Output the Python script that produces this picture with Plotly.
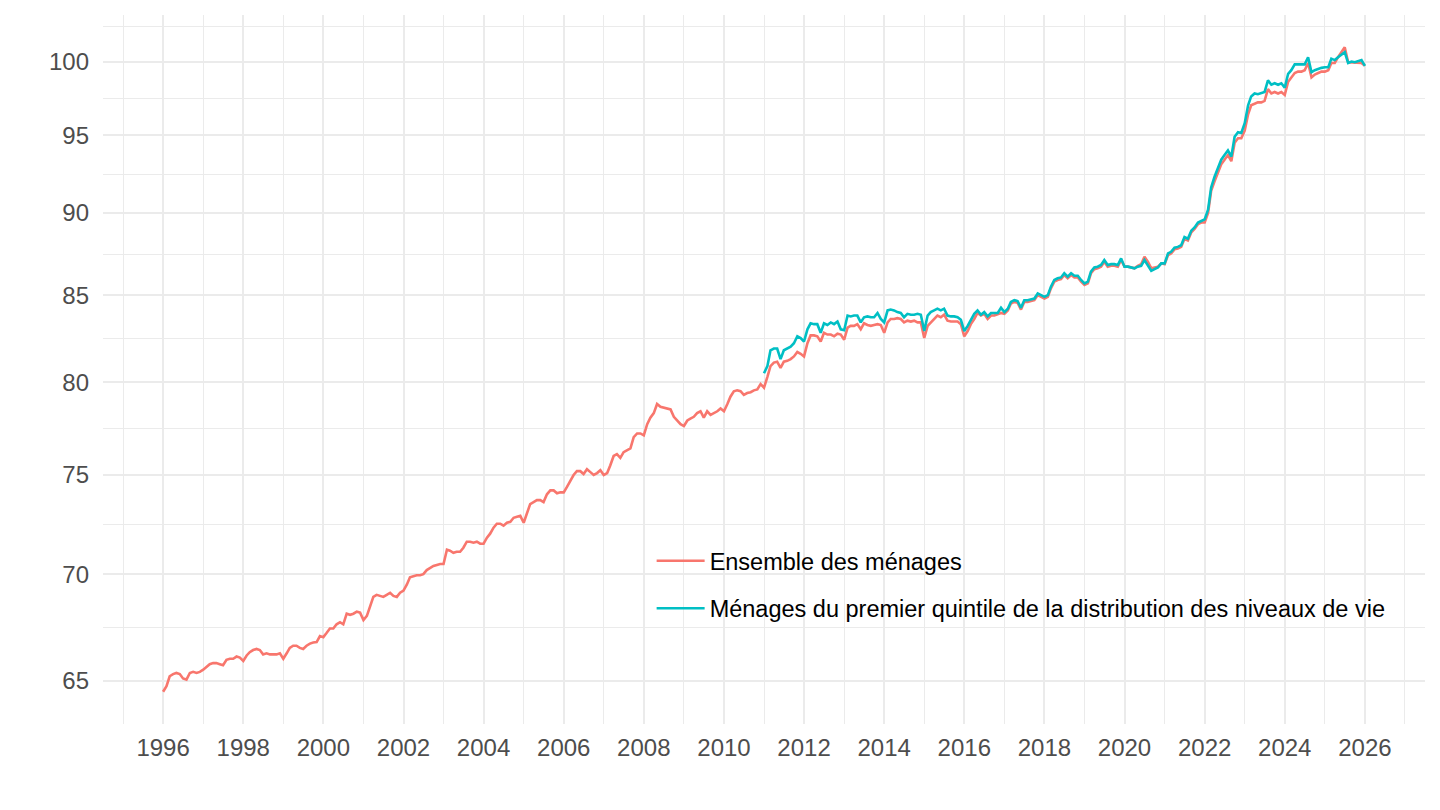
import numpy as np
import pandas as pd
import plotly.graph_objects as go

# Monthly index values, Jan 1996 .. Jan 2026 (Ensemble des ménages)
ensemble = [
    64.5, 64.75, 65.2, 65.3, 65.35, 65.3, 65.1, 65.05, 65.35, 65.4, 65.35, 65.4,      # 1996
    65.5, 65.65, 65.75, 65.8, 65.8, 65.75, 65.7, 65.95, 66.0, 66.0, 66.1, 66.05,      # 1997
    65.9, 66.15, 66.3, 66.4, 66.45, 66.4, 66.2, 66.25, 66.2, 66.2, 66.2, 66.25,       # 1998
    66.0, 66.25, 66.5, 66.6, 66.6, 66.5, 66.45, 66.6, 66.7, 66.75, 66.77, 67.05,      # 1999
    67.0, 67.2, 67.4, 67.4, 67.6, 67.7, 67.6, 68.1, 68.05, 68.1, 68.2, 68.15,         # 2000
    67.8, 68.0, 68.4, 68.9, 69.0, 68.95, 68.9, 69.0, 69.1, 68.95, 68.9, 69.1,         # 2001
    69.2, 69.5, 69.85, 69.9, 69.95, 69.95, 70.0, 70.2, 70.3, 70.4, 70.45, 70.5,       # 2002
    70.5, 71.2, 71.15, 71.05, 71.1, 71.1, 71.3, 71.6, 71.6, 71.55, 71.6, 71.5,        # 2003
    71.5, 71.8, 72.0, 72.3, 72.5, 72.5, 72.4, 72.55, 72.6, 72.8, 72.85, 72.9,         # 2004
    72.55, 73.1, 73.5, 73.6, 73.7, 73.7, 73.6, 74.0, 74.2, 74.2, 74.05, 74.1,         # 2005
    74.1, 74.4, 74.7, 75.0, 75.2, 75.2, 75.05, 75.3, 75.15, 75.0, 75.1, 75.25,        # 2006
    75.0, 75.1, 75.5, 76.0, 76.1, 75.9, 76.2, 76.3, 76.4, 77.0, 77.2, 77.2,           # 2007
    77.1, 77.7, 78.05, 78.3, 78.8, 78.65, 78.6, 78.55, 78.5, 78.1, 77.9, 77.7,        # 2008
    77.6, 77.9, 78.0, 78.1, 78.3, 78.4, 78.05, 78.4, 78.2, 78.3, 78.4, 78.55,         # 2009
    78.4, 78.8, 79.2, 79.5, 79.55, 79.5, 79.3, 79.4, 79.45, 79.55, 79.6, 79.9,        # 2010
    79.7, 80.3, 80.9, 81.1, 81.15, 80.8, 81.15, 81.2, 81.3, 81.45, 81.7, 81.6,        # 2011
    81.45, 82.2, 82.65, 82.65, 82.6, 82.3, 82.8, 82.7, 82.7, 82.6, 82.75, 82.7,       # 2012
    82.4, 83.1, 83.2, 83.2, 83.3, 83.0, 83.35, 83.25, 83.2, 83.25, 83.3, 83.25,       # 2013
    82.8, 83.4, 83.6, 83.6, 83.65, 83.6, 83.4, 83.5, 83.45, 83.5, 83.4, 83.4,         # 2014
    82.5, 83.2, 83.4, 83.6, 83.8, 83.7, 83.85, 83.5, 83.45, 83.45, 83.45, 83.3,       # 2015
    82.6, 82.9, 83.3, 83.6, 83.95, 83.8, 83.9, 83.6, 83.8, 83.8, 83.9, 83.95,         # 2016
    83.9, 84.1, 84.5, 84.6, 84.55, 84.15, 84.6, 84.6, 84.65, 84.7, 85.0, 84.9,        # 2017
    84.8, 84.9, 85.4, 85.8, 85.9, 85.95, 86.2, 86.0, 86.2, 86.05, 86.05, 85.8,        # 2018
    85.6, 85.7, 86.3, 86.55, 86.6, 86.7, 87.0, 86.7, 86.75, 86.75, 86.7, 87.1,        # 2019
    86.7, 86.7, 86.65, 86.6, 86.75, 86.85, 87.3, 87.0, 86.6, 86.65, 86.7, 86.9,       # 2020
    86.85, 87.4, 87.5, 87.75, 87.8, 87.9, 88.4, 88.3, 88.8, 89.0, 89.3, 89.4,         # 2021
    89.4, 90.0, 91.4, 92.0, 92.6, 93.1, 93.4, 93.7, 93.3, 94.5, 94.8, 94.8,           # 2022
    95.3, 96.4, 97.0, 97.1, 97.2, 97.2, 97.3, 98.1, 97.8, 97.9, 97.8, 97.9,           # 2023
    97.7, 98.6, 98.9, 99.2, 99.3, 99.3, 99.4, 99.9, 98.9, 99.1, 99.2, 99.3,           # 2024
    99.3, 99.4, 99.9, 99.9, 100.3, 100.65, 101.0, 99.95, 99.95, 99.9, 99.95, 99.9,    # 2025
    99.7,                                                                            # 2026
]

# Monthly index values, Jan 2011 .. Jan 2026 (premier quintile)
quintile1 = [
    80.5, 80.9, 81.8, 81.9, 81.9, 81.3, 81.8, 81.9, 82.0, 82.2, 82.6, 82.5,           # 2011
    82.3, 83.0, 83.35, 83.3, 83.3, 82.8, 83.35, 83.25, 83.4, 83.3, 83.45, 83.0,       # 2012
    82.95, 83.8, 83.75, 83.8, 83.8, 83.4, 83.7, 83.75, 83.7, 83.7, 83.95, 83.6,       # 2013
    83.4, 84.1, 84.15, 84.1, 84.0, 83.95, 83.7, 83.9, 83.85, 83.85, 83.9, 83.85,      # 2014
    82.9, 83.8, 84.0, 84.1, 84.2, 84.1, 84.2, 83.8, 83.75, 83.75, 83.7, 83.55,        # 2015
    82.9, 83.2, 83.55, 83.9, 84.1, 83.85, 84.0, 83.75, 83.95, 83.95, 83.95, 84.25,    # 2016
    84.0, 84.2, 84.6, 84.7, 84.65, 84.25, 84.7, 84.7, 84.75, 84.8, 85.1, 85.0,        # 2017
    84.9, 85.0, 85.5, 85.9, 86.0, 86.05, 86.3, 86.1, 86.3, 86.15, 86.15, 85.9,        # 2018
    85.7, 85.8, 86.4, 86.65, 86.7, 86.8, 87.1, 86.8, 86.85, 86.85, 86.8, 87.2,        # 2019
    86.7, 86.7, 86.65, 86.6, 86.7, 86.75, 87.1, 86.8, 86.45, 86.55, 86.65, 86.9,      # 2020
    86.9, 87.5, 87.6, 87.85, 87.9, 88.0, 88.5, 88.4, 88.9, 89.1, 89.4, 89.5,          # 2021
    89.6, 90.2, 91.6, 92.3, 92.9, 93.4, 93.7, 94.0, 93.6, 94.9, 95.2, 95.15,          # 2022
    95.8, 97.0, 97.6, 97.8, 97.75, 97.8, 97.9, 98.7, 98.4, 98.5, 98.4, 98.5,          # 2023
    98.2, 99.15, 99.4, 99.8, 99.8, 99.8, 99.8, 100.3, 99.26, 99.4, 99.5, 99.56,       # 2024
    99.6, 99.6, 100.2, 100.1, 100.3, 100.5, 100.65, 99.9, 100.0, 99.95, 100.0, 100.1, # 2025
    99.7,                                                                            # 2026
]

series_names = ["Ensemble des ménages",
                "Ménages du premier quintile de la distribution des niveaux de vie"]
series_colors = ["#F8766D", "#00BFC4"]

dates_all = pd.date_range("1996-01-01", periods=len(ensemble), freq="MS")
dates_q1 = pd.date_range("2011-01-01", periods=len(quintile1), freq="MS")

y_major = [65, 70, 75, 80, 85, 90, 95, 100]
x_major_years = list(range(1996, 2027, 2))
x_minor_years = list(range(1995, 2028, 2))

# minor gridlines halfway (in log space) between majors, incl. one above the top
ext = [60] + y_major + [105]
y_minor = [float(np.sqrt(a * b)) for a, b in zip(ext[:-1], ext[1:])]

fig = go.Figure()
fig.add_trace(go.Scatter(x=dates_all, y=ensemble, mode="lines", name=series_names[0],
                         legendgroup="a",
                         line=dict(color=series_colors[0], width=2.6)))
fig.add_trace(go.Scatter(x=dates_q1, y=quintile1, mode="lines", name=series_names[1],
                         legendgroup="b",
                         line=dict(color=series_colors[1], width=2.6)))

# ggplot-like 5% expansion in transformed space
lo = np.log10(min(ensemble + quintile1))
hi = np.log10(max(ensemble + quintile1))
pad = 0.05 * (hi - lo)
t0 = pd.Timestamp("1996-01-01")
t1 = pd.Timestamp("2026-01-01")
tpad = (t1 - t0) * 0.05

font_family = "Liberation Sans, Arial, Helvetica, sans-serif"
grid = "#EBEBEB"

# page body adds an 8px offset, so the figure is sized to fit inside the window
fig.update_layout(
    width=1432, height=802,
    margin=dict(l=95, r=15, t=7, b=86, autoexpand=False),
    paper_bgcolor="white", plot_bgcolor="white",
    font=dict(family=font_family, size=24, color="#4D4D4D"),
    showlegend=True,
    legend=dict(x=0.415, y=0.261, xanchor="left", yanchor="top",
                bgcolor="rgba(0,0,0,0)", font=dict(size=23.5, color="black"),
                tracegroupgap=14, traceorder="grouped", itemwidth=48),
    xaxis=dict(type="date", range=[t0 - tpad, t1 + tpad], automargin=False,
               tickmode="array",
               tickvals=[pd.Timestamp(f"{y}-01-01") for y in x_major_years],
               ticktext=[str(y) for y in x_major_years],
               showgrid=True, gridcolor=grid, gridwidth=2.2,
               zeroline=False, showline=False, ticks="",
               ticklabelstandoff=7,
               minor=dict(tickmode="array",
                          tickvals=[pd.Timestamp(f"{y}-01-01") for y in x_minor_years],
                          showgrid=True, gridcolor=grid, gridwidth=1.1, ticks="")),
    yaxis=dict(type="log", range=[lo - pad, hi + pad], automargin=False,
               tickmode="array", tickvals=y_major, ticktext=[str(v) for v in y_major],
               showgrid=True, gridcolor=grid, gridwidth=2.2,
               zeroline=False, showline=False, ticks="",
               ticklabelstandoff=13,
               minor=dict(tickmode="array", tickvals=y_minor,
                          showgrid=True, gridcolor=grid, gridwidth=1.1, ticks="")),
)

fig.write_html("out.html")
